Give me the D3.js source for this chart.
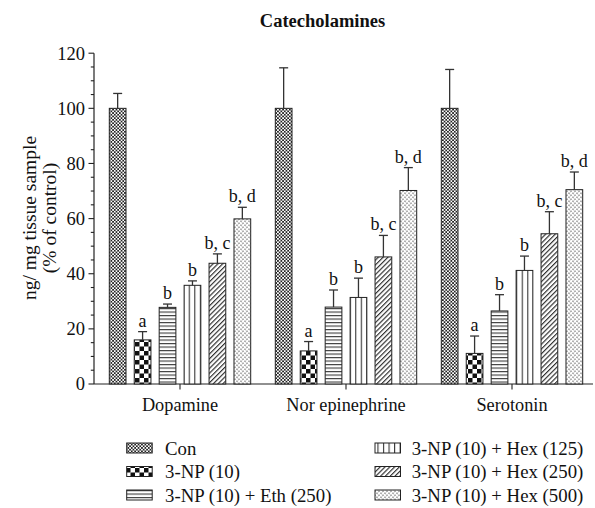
<!DOCTYPE html>
<html><head><meta charset="utf-8">
<script src="https://cdn.jsdelivr.net/npm/d3@7"></script>
<style>body{margin:0;background:#fff}svg{display:block}text{font-family:"Liberation Serif","Times New Roman",serif;fill:#111}</style>
</head><body><svg id="c" width="595" height="508"></svg>
<script>
const groups = ["Dopamine", "Nor epinephrine", "Serotonin"];
const series = ["Con", "3-NP (10)", "3-NP (10) + Eth (250)", "3-NP (10) + Hex (125)", "3-NP (10) + Hex (250)", "3-NP (10) + Hex (500)"];
const patternIds = ["pCon", "pNP", "pEth", "pH125", "pH250", "pH500"];
// values per series, in group order
const means = [
  [100, 100, 100],
  [16.0, 12.0, 11.1],
  [27.8, 27.9, 26.5],
  [35.8, 31.4, 41.2],
  [43.8, 46.1, 54.5],
  [59.9, 70.2, 70.5]
];
const errs = [
  [5.4, 14.7, 14.1],
  [3.0, 3.4, 6.3],
  [1.2, 6.2, 5.9],
  [1.6, 7.0, 5.2],
  [3.4, 7.8, 8.0],
  [4.2, 8.3, 6.4]
];
const sigLabels = [
  ["", "", ""],
  ["a", "a", "a"],
  ["b", "b", "b"],
  ["b", "b", "b"],
  ["b, c", "b, c", "b, c"],
  ["b, d", "b, d", "b, d"]
];
const yTicks = [0, 20, 40, 60, 80, 100, 120];
const yMinorTicks = d3.range(0, 121, 5);

const svg = d3.select("#c");
const defs = svg.append("defs");

// patterns
let p = defs.append("pattern").attr("id","pCon").attr("patternUnits","userSpaceOnUse").attr("width",3.4).attr("height",3.4);
p.append("rect").attr("width",3.4).attr("height",3.4).attr("fill","#fff");
p.append("rect").attr("width",1.7).attr("height",1.7).attr("fill","#222");
p.append("rect").attr("x",1.7).attr("y",1.7).attr("width",1.7).attr("height",1.7).attr("fill","#222");

p = defs.append("pattern").attr("id","pNP").attr("patternUnits","userSpaceOnUse").attr("width",9).attr("height",9);
p.append("rect").attr("width",9).attr("height",9).attr("fill","#fff");
p.append("rect").attr("width",4.5).attr("height",4.5).attr("fill","#111");
p.append("rect").attr("x",4.5).attr("y",4.5).attr("width",4.5).attr("height",4.5).attr("fill","#111");

p = defs.append("pattern").attr("id","pEth").attr("patternUnits","userSpaceOnUse").attr("width",6).attr("height",3.5);
p.append("rect").attr("width",6).attr("height",3.5).attr("fill","#fff");
p.append("line").attr("x1",0).attr("x2",6).attr("y1",0.6).attr("y2",0.6).attr("stroke","#222").attr("stroke-width",1);

p = defs.append("pattern").attr("id","pH125").attr("patternUnits","userSpaceOnUse").attr("width",5.55).attr("height",6);
p.append("rect").attr("width",5.55).attr("height",6).attr("fill","#fff");
p.append("line").attr("x1",0.6).attr("x2",0.6).attr("y1",0).attr("y2",6).attr("stroke","#222").attr("stroke-width",1);

p = defs.append("pattern").attr("id","pH250").attr("patternUnits","userSpaceOnUse").attr("width",3.4).attr("height",3.4).attr("patternTransform","rotate(45)");
p.append("rect").attr("width",3.4).attr("height",3.4).attr("fill","#fff");
p.append("line").attr("x1",0.6).attr("x2",0.6).attr("y1",0).attr("y2",3.4).attr("stroke","#222").attr("stroke-width",1.1);

p = defs.append("pattern").attr("id","pH500").attr("patternUnits","userSpaceOnUse").attr("width",4).attr("height",4);
p.append("rect").attr("width",4).attr("height",4).attr("fill","#fff");
p.append("path").attr("d","M0.2,0.6 L1,1.6 L1.8,0.6").attr("fill","none").attr("stroke","#555").attr("stroke-width",0.9);
p.append("path").attr("d","M2.2,2.6 L3,3.6 L3.8,2.6").attr("fill","none").attr("stroke","#555").attr("stroke-width",0.9);

const y = d3.scaleLinear().domain([0,120]).range([384, 53.2]);
const x = d3.scaleBand().domain(groups).range([97, 595]).padding(0);
const xi = d3.scaleBand().domain(series).range([12.3, 153.7]).paddingInner(0.33).paddingOuter(0);

// title
svg.append("text").attr("x",322.5).attr("y",27).attr("text-anchor","middle")
  .style("font-size","18.5px").style("font-weight","bold").text("Catecholamines");

// y axis
const yAxisG = svg.append("g").attr("transform","translate(94,0)");
yAxisG.append("line").attr("y1",y(0)).attr("y2",y(120)).attr("stroke","#222").attr("stroke-width",1.2);
yAxisG.selectAll(".minor").data(yMinorTicks).join("line")
  .attr("x1",0).attr("x2",d=> d%20===0 ? -5.5 : -3.2)
  .attr("y1",d=>y(d)).attr("y2",d=>y(d)).attr("stroke","#222").attr("stroke-width",1.1);
yAxisG.selectAll(".lab").data(yTicks).join("text")
  .attr("x",-9).attr("y",d=>y(d)).attr("dy","0.35em").attr("text-anchor","end")
  .style("font-size","18.5px").text(d=>d);

// y label
const yl = svg.append("text").attr("transform","translate(0,218) rotate(-90)").attr("text-anchor","middle").style("font-size","19.5px");
yl.append("tspan").attr("x",0).attr("y",36).text("ng/ mg tissue sample");
yl.append("tspan").attr("x",0).attr("y",56).text("(% of control)");

// x axis
svg.append("line").attr("x1",94).attr("x2",593).attr("y1",y(0)).attr("y2",y(0)).attr("stroke","#222").attr("stroke-width",1.2);
svg.selectAll(".xt").data(groups).join("line")
  .attr("x1",d=>x(d)+x.bandwidth()/2).attr("x2",d=>x(d)+x.bandwidth()/2)
  .attr("y1",y(0)).attr("y2",y(0)+5.5).attr("stroke","#222").attr("stroke-width",1.1);
svg.selectAll(".xl").data(groups).join("text")
  .attr("x",d=>x(d)+x.bandwidth()/2).attr("y",411).attr("text-anchor","middle")
  .style("font-size","18.3px").text(d=>d);

// bars
const data = [];
series.forEach((s,si)=>groups.forEach((g,gi)=>data.push({s,si,g,v:means[si][gi],e:errs[si][gi],lab:sigLabels[si][gi]})));
const bw = xi.bandwidth();
const bars = svg.append("g");
bars.selectAll("rect").data(data).join("rect")
  .attr("x",d=>x(d.g)+xi(d.s)).attr("width",bw)
  .attr("y",d=>y(d.v)).attr("height",d=>y(0)-y(d.v))
  .attr("fill",d=>`url(#${patternIds[d.si]})`).attr("stroke","#222").attr("stroke-width",1);
const eb = svg.append("g").attr("stroke","#333").attr("stroke-width",1.3);
eb.selectAll(".v").data(data).join("line")
  .attr("x1",d=>x(d.g)+xi(d.s)+bw/2).attr("x2",d=>x(d.g)+xi(d.s)+bw/2)
  .attr("y1",d=>y(d.v)).attr("y2",d=>y(d.v+d.e));
eb.selectAll(".c").data(data).join("line")
  .attr("x1",d=>x(d.g)+xi(d.s)+bw/2-4.5).attr("x2",d=>x(d.g)+xi(d.s)+bw/2+4.5)
  .attr("y1",d=>y(d.v+d.e)).attr("y2",d=>y(d.v+d.e));
svg.selectAll(".sig").data(data.filter(d=>d.lab)).join("text")
  .attr("x",d=>x(d.g)+xi(d.s)+bw/2).attr("y",d=>y(d.v+d.e)-5).attr("text-anchor","middle")
  .style("font-size","18px").text(d=>d.lab);

// legend
const legX = [126.7, 375], legTextX = [165, 411.7], legY = [448, 471.5, 495];
const lg = svg.append("g");
series.forEach((s,i)=>{
  const col = Math.floor(i/3), row = i%3;
  lg.append("rect").attr("x",legX[col]).attr("y",legY[row]-5).attr("width",25.5).attr("height",10)
    .attr("fill",`url(#${patternIds[i]})`).attr("stroke","#222").attr("stroke-width",1);
  lg.append("text").attr("x",legTextX[col]).attr("y",legY[row]).attr("dy","0.35em").style("font-size","18.8px").text(s);
});
</script></body></html>
